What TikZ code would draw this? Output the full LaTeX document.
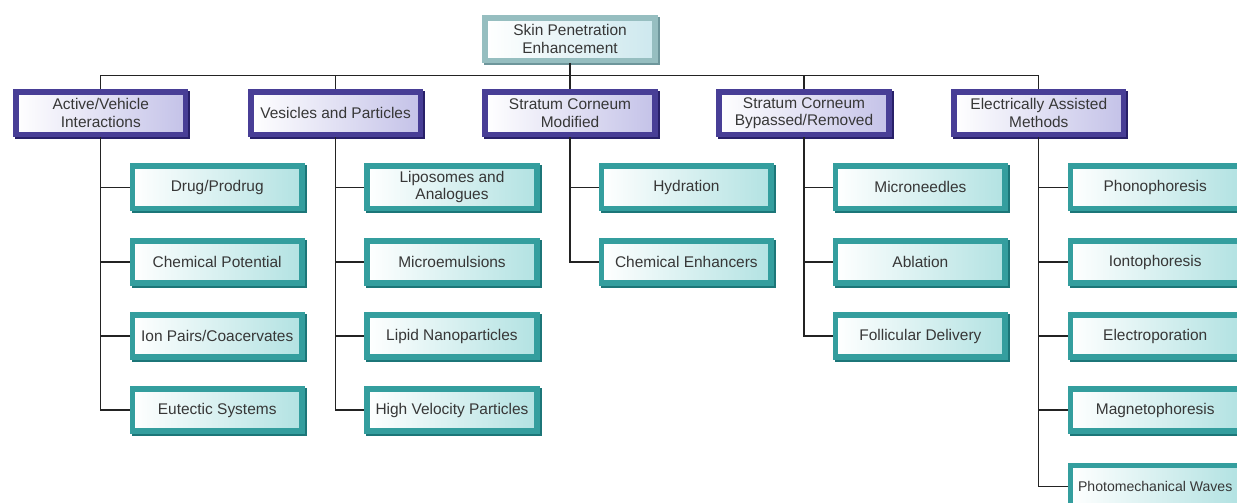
\documentclass[tikz,border=0pt]{standalone}
\usepackage{fontspec}
\setmainfont{Liberation Sans}
\usepackage{tikz}
\usetikzlibrary{positioning,calc}
\usepackage{xcolor}
\definecolor{rootedge}{RGB}{150,190,192}
\definecolor{rootdark}{RGB}{110,150,155}
\definecolor{rootfill}{RGB}{205,232,238}
\definecolor{catedge}{RGB}{72,62,150}
\definecolor{catdark}{RGB}{40,32,105}
\definecolor{catfill}{RGB}{196,194,232}
\definecolor{subedge}{RGB}{52,158,158}
\definecolor{subdark}{RGB}{28,118,120}
\definecolor{subfill}{RGB}{178,226,226}
\definecolor{inktext}{RGB}{55,55,55}
\definecolor{linkgray}{RGB}{35,35,35}

\begin{document}
\begin{tikzpicture}[
    box/.style={line width=4pt, minimum width=4.24cm, minimum height=1.06cm,
                align=center, text=inktext, inner sep=1pt,
                font=\fontsize{11}{12.5}\selectfont, left color=white},
    rootbox/.style={box, draw=rootedge, right color=rootfill,
                preaction={draw=rootdark, line width=4pt,
                transform canvas={xshift=1.4pt,yshift=-1.4pt}}},
    catbox/.style={box, draw=catedge, right color=catfill,
                preaction={draw=catdark, line width=4pt,
                transform canvas={xshift=1.4pt,yshift=-1.4pt}}},
    subbox/.style={box, draw=subedge, right color=subfill,
                preaction={draw=subdark, line width=4pt,
                transform canvas={xshift=1.4pt,yshift=-1.4pt}}},
    link/.style={linkgray, line width=0.9pt}
]
\clip (0,0) rectangle (30.925,-12.55);
\fill[white] (0,0) rectangle (30.925,-12.55);

% top of the tree
\node[rootbox] (root) at (14.25,-0.98) {Skin Penetration\\Enhancement};

% the five groups
\node[catbox] (active) at (2.52,-2.83) {Active/Vehicle\\Interactions};
\node[catbox] (vesicle) at (8.39,-2.83) {Vesicles and Particles};
\node[catbox] (scmod) at (14.25,-2.83) {Stratum Corneum\\Modified};
\node[catbox] (scbyp) at (20.1,-2.83) {Stratum Corneum\\Bypassed/Removed};
\node[catbox] (elec) at (25.97,-2.83) {Electrically Assisted\\Methods};

\foreach \grp in {active,vesicle,scmod,scbyp,elec}
    \draw[link] (root.south) -- ++(0,-0.3) -| (\grp.north);

% active/vehicle
\node[subbox] (drug) at (5.43,-4.68) {Drug/Prodrug};
\node[subbox] (chempot) at (5.43,-6.55) {Chemical Potential};
\node[subbox] (ionpair) at (5.43,-8.4) {Ion Pairs/Coacervates};
\node[subbox] (eutectic) at (5.43,-10.25) {Eutectic Systems};

% vesicles
\node[subbox] (lipo) at (11.3,-4.68) {Liposomes and\\Analogues};
\node[subbox] (micro) at (11.3,-6.55) {Microemulsions};
\node[subbox] (lipnano) at (11.3,-8.4) {Lipid Nanoparticles};
\node[subbox] (highvel) at (11.3,-10.25) {High Velocity Particles};

% stratum corneum modified
\node[subbox] (hydra) at (17.16,-4.68) {Hydration};
\node[subbox] (chemenh) at (17.16,-6.55) {Chemical Enhancers};

% stratum corneum bypassed
\node[subbox] (needle) at (23.01,-4.68) {Microneedles};
\node[subbox] (ablat) at (23.01,-6.55) {Ablation};
\node[subbox] (follic) at (23.01,-8.4) {Follicular Delivery};

% electrical (last column runs off the right edge)
\node[subbox] (phono) at (28.88,-4.68) {Phonophoresis};
\node[subbox] (ionto) at (28.88,-6.55) {Iontophoresis};
\node[subbox] (electro) at (28.88,-8.4) {Electroporation};
\node[subbox] (magneto) at (28.88,-10.25) {Magnetophoresis};
\node[subbox, font=\fontsize{10}{12}\selectfont] (photo) at (28.88,-12.17) {Photomechanical Waves};

\foreach \kid in {drug,chempot,ionpair,eutectic}
    \draw[link] (active.south) |- (\kid.west);
\foreach \kid in {lipo,micro,lipnano,highvel}
    \draw[link] (vesicle.south) |- (\kid.west);
\foreach \kid in {hydra,chemenh}
    \draw[link] (scmod.south) |- (\kid.west);
\foreach \kid in {needle,ablat,follic}
    \draw[link] (scbyp.south) |- (\kid.west);
\foreach \kid in {phono,ionto,electro,magneto,photo}
    \draw[link] (elec.south) |- (\kid.west);
\end{tikzpicture}
\end{document}
